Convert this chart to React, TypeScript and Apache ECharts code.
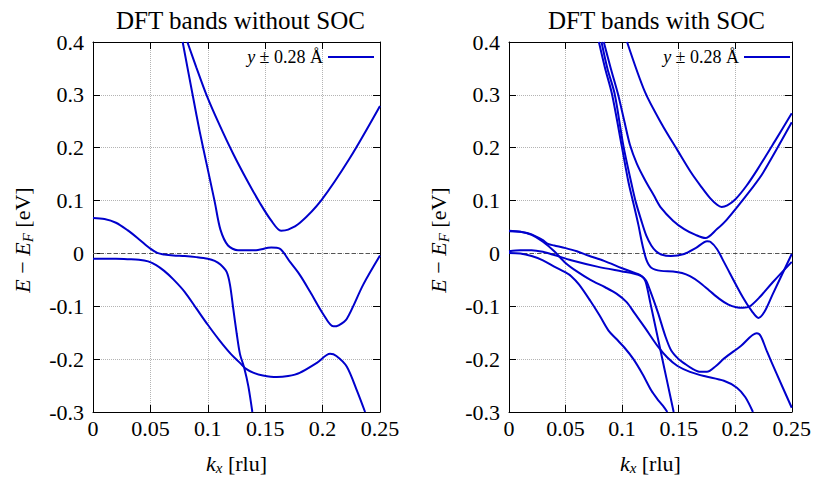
import React, { useEffect, useRef } from "react";
import * as echarts from "echarts";

// ---------- labels ----------
const titles = ["DFT bands without SOC", "DFT bands with SOC"];
const xTicks = ["0", "0.05", "0.1", "0.15", "0.2", "0.25"];
const yTicks = ["-0.3", "-0.2", "-0.1", "0", "0.1", "0.2", "0.3", "0.4"];
const legendLabel = "y ± 0.28 Å";

// ---------- left panel: without SOC ----------
const noSocV1 = [
  [0, 0.067], [0.01, 0.065], [0.02, 0.058], [0.03, 0.044], [0.04, 0.027], [0.05, 0.009],
  [0.056, 0.001], [0.062, -0.002], [0.07, -0.004], [0.08, -0.005], [0.09, -0.007], [0.1, -0.01],
  [0.106, -0.014], [0.111, -0.021], [0.1164, -0.035], [0.1193, -0.059], [0.1222, -0.105],
  [0.1252, -0.152], [0.128, -0.19], [0.1318, -0.217], [0.1353, -0.251], [0.1388, -0.3],
];
const noSocV2 = [
  [0, -0.01], [0.01, -0.01], [0.02, -0.01], [0.03, -0.011], [0.04, -0.012], [0.048, -0.015],
  [0.055, -0.022], [0.062, -0.033], [0.07, -0.049], [0.08, -0.073], [0.09, -0.104], [0.1, -0.135],
  [0.11, -0.164], [0.12, -0.19], [0.128, -0.207], [0.133, -0.218], [0.14, -0.226], [0.148, -0.231],
  [0.16, -0.234], [0.17, -0.232], [0.18, -0.226], [0.195, -0.207], [0.2065, -0.19], [0.212, -0.194],
  [0.221, -0.214], [0.23, -0.26], [0.237, -0.3],
];
const noSocC1 = [
  [0.0781, 0.4], [0.0874, 0.293], [0.093, 0.23], [0.099, 0.169], [0.106, 0.098], [0.111, 0.045],
  [0.1176, 0.015], [0.1263, 0.006], [0.1408, 0.006], [0.1553, 0.011], [0.1626, 0.009],
  [0.1716, -0.016], [0.18, -0.04], [0.189, -0.072], [0.2006, -0.115], [0.2093, -0.138],
  [0.214, -0.136], [0.221, -0.124], [0.2354, -0.059], [0.25, -0.004],
];
const noSocC2 = [
  [0.0822, 0.4], [0.09, 0.352], [0.099, 0.299], [0.11, 0.244], [0.1222, 0.188], [0.135, 0.135],
  [0.1455, 0.095], [0.155, 0.063], [0.1638, 0.043], [0.17, 0.045], [0.1803, 0.058], [0.199, 0.101],
  [0.2239, 0.181], [0.25, 0.279],
];

// ---------- right panel: with SOC ----------
const socC1 = [
  [0.1044, 0.4], [0.1203, 0.305], [0.135, 0.245], [0.1493, 0.194], [0.161, 0.153], [0.17, 0.126],
  [0.178, 0.104], [0.184, 0.092], [0.188, 0.088], [0.193, 0.091], [0.2, 0.102], [0.21, 0.128],
  [0.22, 0.16], [0.235, 0.212], [0.25, 0.265],
];
const socC2 = [
  [0.0838, 0.4], [0.09, 0.35], [0.0963, 0.302], [0.102, 0.25], [0.107, 0.205], [0.113, 0.17],
  [0.12, 0.14], [0.128, 0.11], [0.1345, 0.086], [0.145, 0.062], [0.1549, 0.046], [0.165, 0.035],
  [0.1737, 0.029], [0.1839, 0.046], [0.1926, 0.064], [0.2158, 0.126], [0.2245, 0.152], [0.25, 0.248],
];
const socC3 = [
  [0.0818, 0.4], [0.087, 0.35], [0.0934, 0.302], [0.1012, 0.203], [0.1085, 0.13], [0.112, 0.098],
  [0.117, 0.062], [0.1215, 0.033], [0.1258, 0.015], [0.13, 0.004], [0.1345, -0.002], [0.1432, -0.005],
  [0.1549, -0.001], [0.165, 0.01], [0.1752, 0.023], [0.178, 0.022], [0.184, 0.008], [0.19, -0.016],
  [0.207, -0.084], [0.215, -0.11], [0.2205, -0.122], [0.226, -0.11], [0.233, -0.078], [0.25, -0.001],
];
const socC4 = [
  [0.0795, 0.4], [0.085, 0.35], [0.091, 0.302], [0.0997, 0.203], [0.1056, 0.135], [0.11, 0.095],
  [0.1143, 0.055], [0.118, 0.016], [0.1215, -0.012], [0.1258, -0.027], [0.1345, -0.033],
  [0.145, -0.034], [0.153, -0.037], [0.16, -0.043], [0.168, -0.054], [0.177, -0.07], [0.186, -0.086],
  [0.194, -0.097], [0.201, -0.102], [0.207, -0.103], [0.213, -0.1], [0.222, -0.082], [0.233, -0.055],
  [0.25, -0.016],
];
const socV1 = [
  [0, 0.043], [0.01, 0.041], [0.02, 0.036], [0.03, 0.025], [0.0345, 0.018], [0.04, 0.015],
  [0.05, 0.01], [0.06, 0.004], [0.07, -0.004], [0.084, -0.014], [0.1, -0.028], [0.11, -0.036],
  [0.116, -0.041], [0.1195, -0.048], [0.1215, -0.059], [0.125, -0.094], [0.13, -0.144],
  [0.135, -0.194], [0.14, -0.244], [0.1456, -0.3],
];
const socV2 = [
  [0, 0.004], [0.01, 0.006], [0.02, 0.006], [0.03, 0.003], [0.04, -0.003], [0.055, -0.013],
  [0.078, -0.025], [0.1, -0.034], [0.11, -0.038], [0.117, -0.043], [0.121, -0.051], [0.1244, -0.068],
  [0.1317, -0.112], [0.138, -0.155], [0.1433, -0.183], [0.15, -0.2], [0.155, -0.208], [0.162, -0.218],
  [0.1693, -0.224], [0.175, -0.224], [0.183, -0.213], [0.19, -0.199], [0.205, -0.175], [0.219, -0.151],
  [0.2225, -0.156], [0.228, -0.185], [0.2363, -0.226], [0.25, -0.292],
];
const socV3 = [
  [0, 0.042], [0.01, 0.041], [0.02, 0.035], [0.03, 0.022], [0.04, 0.004], [0.05, -0.018],
  [0.06, -0.034], [0.072, -0.05], [0.085, -0.064], [0.095, -0.076], [0.104, -0.092], [0.111, -0.113],
  [0.12, -0.14], [0.1316, -0.176], [0.14, -0.197], [0.149, -0.213], [0.16, -0.224], [0.1726, -0.232],
  [0.19, -0.241], [0.2015, -0.254], [0.209, -0.272], [0.2157, -0.3],
];
const socV4 = [
  [0, 0.001], [0.01, 0.0], [0.02, -0.005], [0.03, -0.013], [0.04, -0.025], [0.05, -0.036],
  [0.055, -0.043], [0.062, -0.059], [0.072, -0.09], [0.08, -0.117], [0.088, -0.146], [0.095, -0.162],
  [0.102, -0.178], [0.11, -0.2], [0.118, -0.228], [0.126, -0.26], [0.131, -0.275], [0.136, -0.288],
  [0.14, -0.3],
];

const panels = [
  [noSocV1, noSocV2, noSocC1, noSocC2],
  [socV1, socV2, socV3, socV4, socC1, socC2, socC3, socC4],
];

const FONT = "'Liberation Serif', 'Times New Roman', Times, serif";
const BLUE = "#0000cc";
const GRID_LEFTS = [93, 509];
const GRID_W = 287;
const GRID_TOP = 42;
const GRID_H = 378;

const xFmt = (v: number) => xTicks[Math.round(v / 0.05)] ?? "";
const yFmt = (v: number) => yTicks[Math.round((v + 0.3) / 0.1)] ?? "";

const serif = (size: number, extra: any = {}) => ({ fontFamily: FONT, fontSize: size, color: "#000", ...extra });

function buildOption() {
  const grid = GRID_LEFTS.map((l) => ({ left: l, top: GRID_TOP, width: GRID_W, height: GRID_H }));
  const xAxis: any[] = [];
  const yAxis: any[] = [];
  const tick = { show: true, inside: true, length: 7, lineStyle: { color: "#000", width: 1 } };
  const frame = { show: true, onZero: false, lineStyle: { color: "#000", width: 1 } };
  const split = { show: true, lineStyle: { color: "#b4b4b4", type: "dotted", width: 1 } };
  GRID_LEFTS.forEach((_, i) => {
    xAxis.push({
      type: "value", gridIndex: i, min: 0, max: 0.25, interval: 0.05, position: "bottom",
      axisLine: frame, axisTick: tick, splitLine: split,
      axisLabel: { formatter: xFmt, ...serif(22), margin: 5 },
      name: "{i|k}{s|x}{n| [rlu]}", nameLocation: "middle", nameGap: 39,
      nameTextStyle: {
        ...serif(22), lineHeight: 24,
        rich: {
          n: serif(22, { lineHeight: 24 }),
          i: serif(22, { fontStyle: "italic", lineHeight: 24 }),
          s: serif(15, { fontStyle: "italic", lineHeight: 14, verticalAlign: "bottom" }),
        },
      },
    });
    xAxis.push({
      type: "value", gridIndex: i, min: 0, max: 0.25, interval: 0.05, position: "top",
      axisLine: frame, axisTick: tick, splitLine: { show: false }, axisLabel: { show: false },
    });
    yAxis.push({
      type: "value", gridIndex: i, min: -0.3, max: 0.4, interval: 0.1, position: "left",
      axisLine: frame, axisTick: tick, splitLine: split,
      axisLabel: { formatter: yFmt, ...serif(22), margin: 9 },
      name: "{i|E}{n| − }{i|E}{s|F}{n| [eV]}", nameLocation: "middle", nameRotate: 90, nameGap: 58,
      nameTextStyle: {
        ...serif(22), lineHeight: 26, padding: [0, 26, 0, 0],
        rich: {
          n: serif(22, { lineHeight: 26 }),
          i: serif(22, { fontStyle: "italic", lineHeight: 26 }),
          s: serif(15, { fontStyle: "italic", lineHeight: 15, verticalAlign: "bottom" }),
        },
      },
    });
    yAxis.push({
      type: "value", gridIndex: i, min: -0.3, max: 0.4, interval: 0.1, position: "right",
      axisLine: frame, axisTick: tick, splitLine: { show: false }, axisLabel: { show: false },
    });
  });

  const series: any[] = [];
  panels.forEach((bands, p) => {
    bands.forEach((band, k) => {
      const s: any = {
        type: "line", name: legendLabel, xAxisIndex: 2 * p, yAxisIndex: 2 * p,
        data: band, symbol: "none", showSymbol: false, smooth: 0.3,
        lineStyle: { color: BLUE, width: 2 }, itemStyle: { color: BLUE }, silent: true, z: 3,
      };
      if (k === 0) {
        s.markLine = {
          silent: true, symbol: ["none", "none"], label: { show: false }, z: 2,
          lineStyle: { color: "#555", type: [4, 3], width: 1 },
          data: [{ yAxis: 0 }],
        };
      }
      series.push(s);
    });
  });

  const legendCommon = {
    data: [{ name: legendLabel, icon: "rect" }],
    orient: "horizontal", align: "right", itemWidth: 46, itemHeight: 2, padding: 0,
    selectedMode: false, top: 48,
    formatter: "{i|y}{n| ± 0.28 Å}",
    textStyle: {
      ...serif(18),
      rich: { i: serif(18, { fontStyle: "italic" }), n: serif(18) },
    },
  };

  return {
    animation: false,
    backgroundColor: "#fff",
    textStyle: { fontFamily: FONT },
    title: titles.map((t, i) => ({
      text: t, left: GRID_LEFTS[i] + GRID_W / 2 - 1, top: 3, textAlign: "center",
      textStyle: { fontFamily: FONT, fontSize: 25, fontWeight: "normal", color: "#000" },
    })),
    legend: [
      { ...legendCommon, right: 814 - 374 },
      { ...legendCommon, right: 814 - 790 },
    ],
    grid, xAxis, yAxis, series,
  };
}

export default function App() {
  const ref = useRef<HTMLDivElement>(null);
  useEffect(() => {
    document.body.style.margin = "0";
    const chart = echarts.init(ref.current!, null, { renderer: "svg" });
    chart.setOption(buildOption() as any);
    return () => chart.dispose();
  }, []);
  return <div ref={ref} style={{ width: 814, height: 480 }} />;
}
